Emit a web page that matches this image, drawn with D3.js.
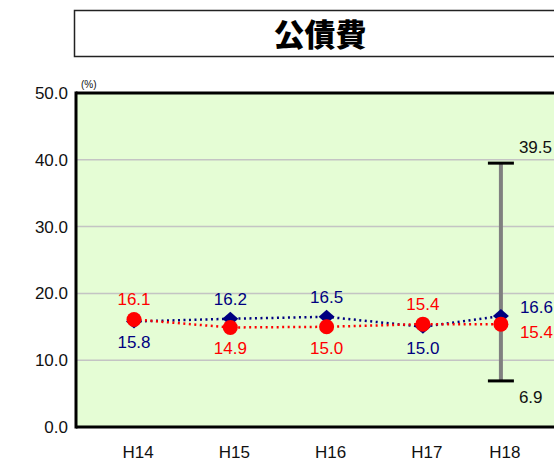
<!DOCTYPE html>
<html><head><meta charset="utf-8">
<script src="https://cdn.jsdelivr.net/npm/d3@7/dist/d3.min.js"></script>
<style>body{margin:0;background:#fff;}svg{display:block;font-family:"Liberation Sans",Arial,sans-serif;}</style>
</head><body>
<svg id="c" width="554" height="463"></svg>
<script>
const title = "公債費";
const categories = ["H14","H15","H16","H17","H18"];
const blueValues = [15.8, 16.2, 16.5, 15.0, 16.6];
const redValues  = [16.1, 14.9, 15.0, 15.4, 15.4];
const rangeLow = 6.9, rangeHigh = 39.5;
const yTicks = [0, 10, 20, 30, 40, 50];
const blueLabelPos = ["below","above","above","below","right"];
const redLabelPos  = ["above","below","below","above","right"];

const svg = d3.select("#c");
const L = 76, T = 93, B = 427, R = 570;
const y = d3.scaleLinear().domain([0,50]).range([B,T]);
const step = 96.3, x0 = 134;
const x = d3.scaleOrdinal().domain(categories)
  .range(categories.map((c,i)=> x0 + step*(i<4 ? i : 3 + 0.81)));

// title box
svg.append("rect").attr("x",74.5).attr("y",10.5).attr("width",492).attr("height",46)
  .attr("fill","#fff").attr("stroke","#222").attr("stroke-width",1.5);
svg.append("text").attr("x",320).attr("y",46).attr("text-anchor","middle")
  .attr("font-size",31).attr("font-weight",900)
  .attr("font-family","'Noto Sans CJK JP',sans-serif").text(title);

// plot bg
svg.append("rect").attr("x",L).attr("y",T).attr("width",R-L).attr("height",B-T).attr("fill","#e5fdd5");

// grid
svg.append("g").selectAll("line").data(yTicks.filter(t=>t>0 && t<50)).join("line")
  .attr("x1",L).attr("x2",R).attr("y1",d=>y(d)).attr("y2",d=>y(d))
  .attr("stroke","#c4c4c4").attr("stroke-width",1.5);

// borders
svg.append("line").attr("x1",L).attr("x2",R).attr("y1",T).attr("y2",T).attr("stroke","#000").attr("stroke-width",3);
svg.append("line").attr("x1",L).attr("x2",R).attr("y1",B).attr("y2",B).attr("stroke","#000").attr("stroke-width",3);
svg.append("line").attr("x1",L).attr("x2",L).attr("y1",T-1.5).attr("y2",B+1.5).attr("stroke","#000").attr("stroke-width",3);

// y axis labels
const yAxis = d3.axisLeft(y).tickValues(yTicks).tickFormat(d3.format(".1f")).tickSize(0).tickPadding(7);
const ga = svg.append("g").attr("transform",`translate(${L-1},0)`).call(yAxis);
ga.select(".domain").remove();
ga.selectAll(".tick line").remove();
ga.selectAll("text").attr("font-size",17).attr("fill","#111").attr("font-family","'Liberation Sans',Arial,sans-serif");
svg.append("text").attr("x",81).attr("y",88).attr("font-size",10).attr("fill","#111").text("(%)");

// x labels
svg.append("g").selectAll("text").data(categories).join("text")
  .attr("x",d=>x(d)+4).attr("y",458).attr("text-anchor","middle")
  .attr("font-size",17).attr("fill","#111").text(d=>d);

// range bar
const last = categories[categories.length-1];
svg.append("line").attr("x1",x(last)).attr("x2",x(last)).attr("y1",y(rangeHigh)).attr("y2",y(rangeLow))
  .attr("stroke","#808080").attr("stroke-width",4);
[rangeHigh, rangeLow].forEach(v=>{
  svg.append("line").attr("x1",x(last)-13).attr("x2",x(last)+13).attr("y1",y(v)).attr("y2",y(v))
    .attr("stroke","#000").attr("stroke-width",3);
});
svg.append("text").attr("x",x(last)+18).attr("y",y(rangeHigh)-10).attr("font-size",17).attr("fill","#111").text(rangeHigh.toFixed(1));
svg.append("text").attr("x",x(last)+18).attr("y",y(rangeLow)+22).attr("font-size",17).attr("fill","#111").text(rangeLow.toFixed(1));

// lines
const line = d3.line().x((d,i)=>x(categories[i])).y(d=>y(d));
svg.append("path").datum(blueValues).attr("d",line).attr("fill","none")
  .attr("stroke","#000080").attr("stroke-width",2.5).attr("stroke-dasharray","2,3.5");
svg.append("path").datum(redValues).attr("d",line).attr("fill","none")
  .attr("stroke","#ff0000").attr("stroke-width",2.5).attr("stroke-dasharray","2,3.5");

// markers
svg.append("g").selectAll("path").data(blueValues).join("path")
  .attr("transform",(d,i)=>`translate(${x(categories[i])},${y(d)})`)
  .attr("d","M0,-7L8,0L0,7L-8,0Z").attr("fill","#000080");
svg.append("g").selectAll("circle").data(redValues).join("circle")
  .attr("cx",(d,i)=>x(categories[i])).attr("cy",d=>y(d)).attr("r",7.5).attr("fill","#ff0000");

// labels
function lab(vals,pos,color){
  svg.append("g").selectAll("text").data(vals).join("text")
    .attr("x",(d,i)=> pos[i]==="right" ? x(categories[i])+19 : x(categories[i]))
    .attr("y",(d,i)=> pos[i]==="above" ? y(d)-14 : pos[i]==="below" ? y(d)+27 : (color==="#000080" ? y(d)-3 : y(d)+14))
    .attr("text-anchor",(d,i)=> pos[i]==="right" ? "start" : "middle")
    .attr("font-size",17).attr("fill",color).text(d=>d.toFixed(1));
}
lab(blueValues, blueLabelPos, "#000080");
lab(redValues, redLabelPos, "#ff0000");
</script>
</body></html>
